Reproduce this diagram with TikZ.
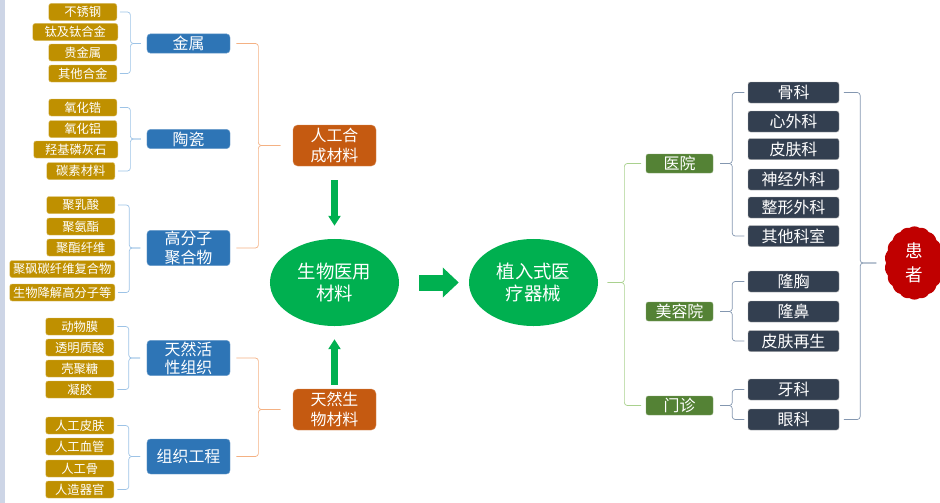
\documentclass[tikz,border=0pt]{standalone}
\usepackage{fontspec}
\setmainfont{Noto Sans CJK SC}
\usetikzlibrary{shapes.geometric,shapes.symbols,arrows.meta,calc}

\definecolor{gold}{HTML}{BF9000}
\definecolor{matBlue}{HTML}{2E75B6}
\definecolor{matOrange}{HTML}{C55A11}
\definecolor{bioGreen}{HTML}{00B050}
\definecolor{siteGreen}{HTML}{548235}
\definecolor{deptSlate}{HTML}{333F50}
\definecolor{patientRed}{HTML}{C00000}
\definecolor{stripBlue}{HTML}{CDD5E6}
\definecolor{lineBlue}{HTML}{9DC3E6}
\definecolor{lineOrange}{HTML}{F4B183}
\definecolor{lineGreen}{HTML}{A9D18E}
\definecolor{lineGray}{HTML}{8497B0}

\tikzset{
  item/.style={draw=gold!60!white, fill=gold, rounded corners=2pt, text=white, anchor=east,
    font=\fontsize{10.5}{12}\selectfont, minimum width=2.04cm, minimum height=0.51cm, inner sep=1pt},
  kind/.style={draw=matBlue!70!white, fill=matBlue, rounded corners=3pt, text=white, align=center,
    font=\fontsize{13.6}{15.5}\selectfont, minimum width=2.49cm, minimum height=0.58cm, inner sep=1pt},
  source/.style={draw=matOrange!70!white, fill=matOrange, rounded corners=4pt, text=white, align=center,
    font=\fontsize{13.6}{17}\selectfont, minimum width=2.49cm, minimum height=1.23cm, inner sep=1pt},
  core/.style={ellipse, fill=bioGreen, text=white, align=center,
    font=\fontsize{15.7}{18.7}\selectfont, minimum width=3.87cm, minimum height=2.61cm, inner sep=0pt},
  site/.style={draw=siteGreen!70!white, fill=siteGreen, rounded corners=2pt, text=white,
    font=\fontsize{13.6}{15.5}\selectfont, minimum width=2.01cm, minimum height=0.57cm, inner sep=1pt},
  dept/.style={draw=gray!60, fill=deptSlate, rounded corners=2pt, text=white,
    font=\fontsize{13.6}{15.5}\selectfont, minimum width=2.73cm, minimum height=0.63cm, inner sep=1pt},
  patient/.style={cloud, cloud puffs=18, cloud puff arc=70, fill=patientRed, text=white, align=center,
    font=\fontsize{15}{21}\selectfont, minimum width=1.36cm, minimum height=2.2cm, inner sep=0pt},
  flow/.style={bioGreen, line width=0.21cm, -{Triangle[length=0.3cm,width=0.36cm]}},
  bigflow/.style={bioGreen, line width=0.48cm, -{Triangle[length=0.48cm,width=0.87cm]}},
}

% brace from the first and last child to the parent
\newcommand{\linkgroup}[4]{%
  \coordinate (gv) at ($(#2)!.45!(#2 -| #4)$);
  \draw[#1, line width=0.6pt, rounded corners=2.5pt] ($(#2)!.1!(#2 -| #4)$) -- (gv |- #2) -- (gv |- #4) -- ($(#4 -| #2)!.8!(#4)$);
  \draw[#1, line width=0.6pt, rounded corners=2.5pt] ($(#3)!.1!(#3 -| #4)$) -- (gv |- #3) -- (gv |- #4) -- ($(#4 -| #2)!.8!(#4)$);
}

\begin{document}
\begin{tikzpicture}[x=0.03cm, y=-0.03cm]
\useasboundingbox (0,0) rectangle (940,503);
\fill[stripBlue] (0,0) rectangle (5,503);

% Materials, left column
\node[item] (Metal1) at (117,12) {不锈钢};
\node[item, minimum width=2.55cm] (Metal2) at (118,32) {钛及钛合金};
\node[item] (Metal3) at (117,52.5) {贵金属};
\node[item] (Metal4) at (117,73.5) {其他合金};

\node[item] (Ceramic1) at (117,107.5) {氧化锆};
\node[item] (Ceramic2) at (117,129) {氧化铝};
\node[item, minimum width=2.52cm] (Ceramic3) at (118,149.5) {羟基磷灰石};
\node[item] (Ceramic4) at (115,171) {碳素材料};

\node[item] (Polymer1) at (115,205) {聚乳酸};
\node[item] (Polymer2) at (115,226.5) {聚氨酯};
\node[item] (Polymer3) at (115,247.5) {聚酯纤维};
\node[item, minimum width=3.15cm] (Polymer4) at (115,269) {聚砜碳纤维复合物};
\node[item, minimum width=3.15cm] (Polymer5) at (115,292.5) {生物降解高分子等};

\node[item] (Tissue1) at (114,326.5) {动物膜};
\node[item] (Tissue2) at (114,347.5) {透明质酸};
\node[item] (Tissue3) at (114,368.5) {壳聚糖};
\node[item] (Tissue4) at (114,389.5) {凝胶};

\node[item] (Eng1) at (114,425.5) {人工皮肤};
\node[item] (Eng2) at (114,446.5) {人工血管};
\node[item] (Eng3) at (114,468.5) {人工骨};
\node[item] (Eng4) at (114,489.5) {人造器官};

% Material kinds
\node[kind] (Metal) at (188.5,43.5) {金属};
\node[kind] (Ceramic) at (188.5,139) {陶瓷};
\node[kind] (Polymer) at (188.5,248) {高分子\\聚合物};
\node[kind] (LiveTissue) at (188.5,358) {天然活\\性组织};
\node[kind, minimum height=1.05cm] (TissueEng) at (188.5,456.5) {组织工程};

% Sources
\node[source] (Synthetic) at (334.5,145.5) {人工合\\成材料};
\node[source] (Natural) at (334.5,409.5) {天然生\\物材料};

% Core
\node[core] (BioMat) at (334.5,282.5) {生物医用\\材料};
\node[core] (Device) at (533.5,282.5) {植入式医\\疗器械};

% Places
\node[site] (Hospital) at (679.5,163.5) {医院};
\node[site] (Beauty) at (679.5,311.5) {美容院};
\node[site] (Clinic) at (679.5,405.5) {门诊};

% Departments
\node[dept] (Dept1) at (793.5,92.5) {骨科};
\node[dept] (Dept2) at (793.5,121.5) {心外科};
\node[dept] (Dept3) at (793.5,149) {皮肤科};
\node[dept] (Dept4) at (793.5,179.5) {神经外科};
\node[dept] (Dept5) at (793.5,207.5) {整形外科};
\node[dept] (Dept6) at (793.5,236) {其他科室};
\node[dept] (Dept7) at (793.5,281.5) {隆胸};
\node[dept] (Dept8) at (793.5,311.5) {隆鼻};
\node[dept] (Dept9) at (793.5,341) {皮肤再生};
\node[dept] (Dept10) at (793.5,389.5) {牙科};
\node[dept] (Dept11) at (793.5,419.5) {眼科};

\node[patient] (Patient) at (914.5,263) {患\\者};

% Braces
\linkgroup{lineBlue}{Metal1.east}{Metal4.east}{Metal.west}
\linkgroup{lineBlue}{Ceramic1.east}{Ceramic4.east}{Ceramic.west}
\linkgroup{lineBlue}{Polymer1.east}{Polymer5.east}{Polymer.west}
\linkgroup{lineBlue}{Tissue1.east}{Tissue4.east}{LiveTissue.west}
\linkgroup{lineBlue}{Eng1.east}{Eng4.east}{TissueEng.west}
\linkgroup{lineOrange}{Metal.east}{Polymer.east}{Synthetic.west}
\linkgroup{lineOrange}{LiveTissue.east}{TissueEng.east}{Natural.west}
\linkgroup{lineGreen}{Hospital.west}{Clinic.west}{Device.east}
\linkgroup{lineGray}{Dept1.west}{Dept6.west}{Hospital.east}
\linkgroup{lineGray}{Dept7.west}{Dept9.west}{Beauty.east}
\linkgroup{lineGray}{Dept10.west}{Dept11.west}{Clinic.east}
\linkgroup{lineGray}{Dept1.east}{Dept11.east}{Patient.west}

% Arrows
\draw[flow, shorten <=0.42cm, shorten >=0.39cm] (Synthetic.south) -- (BioMat.north);
\draw[flow, shorten <=0.12cm, shorten >=0.39cm] (Natural.north) -- (BioMat.south);
\draw[bigflow, shorten <=0.6cm, shorten >=0.3cm] (BioMat.east) -- (Device.west);

\end{tikzpicture}
\end{document}
